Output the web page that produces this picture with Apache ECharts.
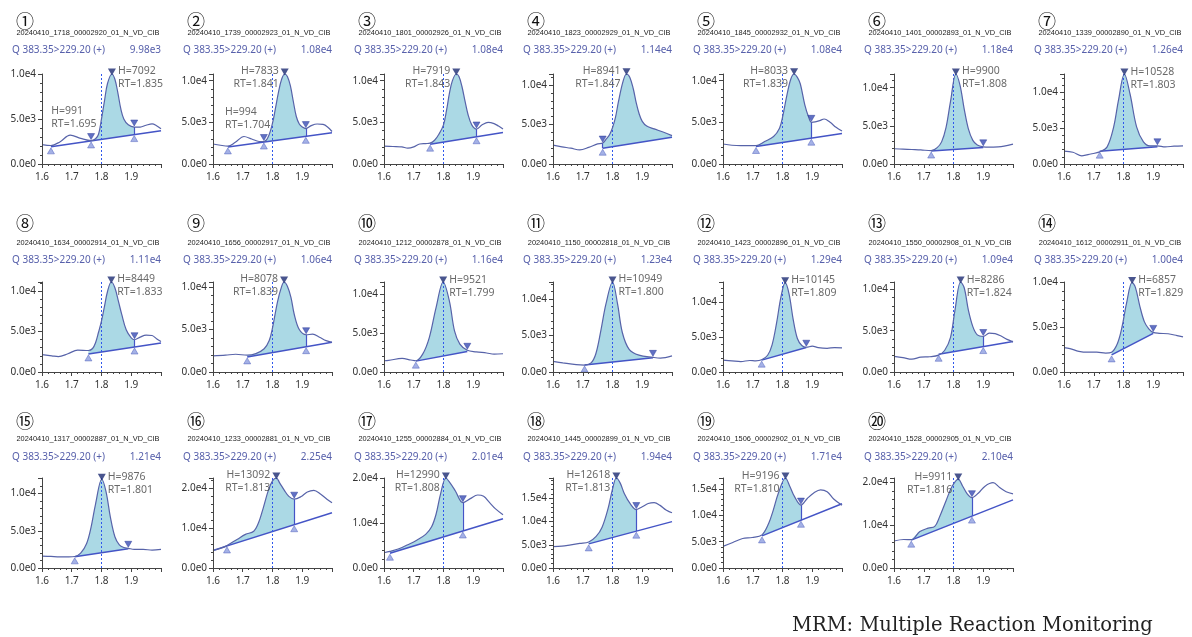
<!DOCTYPE html>
<html>
<head>
<meta charset="utf-8">
<script src="https://cdn.jsdelivr.net/npm/echarts@6/dist/echarts.min.js"></script>
<style>
  html, body { margin: 0; padding: 0; background: #ffffff; }
  #chart { width: 1192px; height: 637px; }
</style>
</head>
<body>
<div id="chart"></div>
<script>
// ---------------------------------------------------------------------------
// Data: 20 MRM chromatograms of the same transition, one per injection
// ---------------------------------------------------------------------------
const panelMarks = ['①','②','③','④','⑤','⑥','⑦','⑧','⑨','⑩','⑪','⑫','⑬','⑭','⑮','⑯','⑰','⑱','⑲','⑳'];

const sampleFiles = [
  '20240410_1718_00002920_01_N_VD_CIB', '20240410_1739_00002923_01_N_VD_CIB',
  '20240410_1801_00002926_01_N_VD_CIB', '20240410_1823_00002929_01_N_VD_CIB',
  '20240410_1845_00002932_01_N_VD_CIB', '20240410_1401_00002893_01_N_VD_CIB',
  '20240410_1339_00002890_01_N_VD_CIB', '20240410_1634_00002914_01_N_VD_CIB',
  '20240410_1656_00002917_01_N_VD_CIB', '20240410_1212_00002878_01_N_VD_CIB',
  '20240410_1150_00002818_01_N_VD_CIB', '20240410_1423_00002896_01_N_VD_CIB',
  '20240410_1550_00002908_01_N_VD_CIB', '20240410_1612_00002911_01_N_VD_CIB',
  '20240410_1317_00002887_01_N_VD_CIB', '20240410_1233_00002881_01_N_VD_CIB',
  '20240410_1255_00002884_01_N_VD_CIB', '20240410_1445_00002899_01_N_VD_CIB',
  '20240410_1506_00002902_01_N_VD_CIB', '20240410_1528_00002905_01_N_VD_CIB'
];

const transitionLabel = 'Q 383.35>229.20 (+)';
const expectedRT = 1.8;

// Maximum intensity of each trace (top of the intensity axis)
const maxIntensity = [9980, 10800, 10800, 11400, 10800, 11800, 12600,
                      11100, 10600, 11600, 12300, 12900, 10900, 10000,
                      12100, 22500, 20100, 19400, 17100, 21000];

// Integrated main peak: apex retention time and height above baseline
const peakRT     = [1.835, 1.841, 1.843, 1.847, 1.839, 1.808, 1.803,
                    1.833, 1.839, 1.799, 1.800, 1.809, 1.824, 1.829,
                    1.801, 1.813, 1.808, 1.813, 1.810, 1.816];
const peakHeight = [7092, 7833, 7919, 8941, 8033, 9900, 10528,
                    8449, 8078, 9521, 10949, 10145, 8286, 6857,
                    9876, 13092, 12990, 12618, 9196, 9911];

// Integration limits of the main peak (min)
const peakStart = [1.765, 1.771, 1.755, 1.767, 1.711, 1.725, 1.72,
                   1.756, 1.715, 1.707, 1.706, 1.73, 1.75, 1.76,
                   1.71, 1.647, 1.62, 1.72, 1.731, 1.658];
const peakEnd   = [1.91, 1.912, 1.911, 2.0, 1.897, 1.90, 1.914,
                   1.911, 1.913, 1.88, 1.936, 1.88, 1.90, 1.90,
                   1.89, 1.873, 1.865, 1.88, 1.862, 1.862];

// Drawn baseline segment: [rt, intensity] at each end
const baselineFrom = [[1.63,1900],[1.65,2050],[1.755,2380],[1.767,2000],[1.711,2100],[1.725,1700],[1.72,1800],
                      [1.756,2230],[1.715,1780],[1.707,1400],[1.706,950],[1.73,1700],[1.75,2150],[1.76,1900],
                      [1.71,1500],[1.6,4400],[1.62,3300],[1.72,5200],[1.731,6100],[1.658,6500]];
const baselineTo   = [[2.0,3700],[2.0,3750],[2.0,3780],[2.0,3400],[2.0,3650],[1.90,2150],[1.914,2430],
                      [2.0,3570],[2.0,3510],[1.88,2650],[1.936,1950],[1.88,3500],[2.0,3700],[1.90,4300],
                      [1.89,2600],[2.0,13800],[2.0,11000],[2.0,10000],[2.0,12200],[2.0,15900]];

// Small earlier peak integrated in samples ① and ②
const minorPeakPanel  = [0, 1];
const minorPeakRT     = [1.695, 1.704];
const minorPeakHeight = [991, 994];
const minorPeakStart  = [1.63, 1.65];

// Chromatogram traces: [retention time (min), intensity]
const trace01 = [[1.60,2150],[1.63,2050],[1.66,2450],[1.695,3200],[1.73,2850],[1.765,2600],[1.78,2800],[1.79,3300],[1.80,5000],[1.81,7000],[1.82,8900],[1.835,9980],[1.845,9400],[1.855,7900],[1.865,6100],[1.875,5000],[1.89,4350],[1.91,4100],[1.93,4100],[1.95,4300],[1.97,4450],[1.985,4250],[2.0,3900]];
const trace02 = [[1.60,2400],[1.625,2250],[1.65,2150],[1.675,2600],[1.704,3300],[1.73,3000],[1.755,2700],[1.771,2700],[1.785,3200],[1.80,4900],[1.81,6700],[1.82,8600],[1.83,10100],[1.841,10800],[1.85,10500],[1.86,9400],[1.87,7500],[1.88,5700],[1.89,4800],[1.90,4450],[1.912,4250],[1.93,4600],[1.95,4800],[1.97,4750],[1.985,4450],[2.0,3900]];
const trace03 = [[1.60,2150],[1.63,2100],[1.66,2050],[1.68,1900],[1.70,2050],[1.72,2400],[1.74,2450],[1.755,2500],[1.77,2850],[1.785,3600],[1.80,4700],[1.81,6400],[1.82,8500],[1.83,10000],[1.843,10800],[1.852,10500],[1.862,9300],[1.872,7600],[1.882,6000],[1.895,4700],[1.911,4200],[1.93,4700],[1.95,5000],[1.97,4850],[1.985,4550],[2.0,4200]];
const trace04 = [[1.60,2380],[1.63,2170],[1.66,2000],[1.69,1780],[1.72,2100],[1.75,2550],[1.767,2650],[1.78,3200],[1.79,3700],[1.80,4600],[1.81,5900],[1.82,7900],[1.835,10400],[1.847,11400],[1.858,11000],[1.87,9500],[1.88,7700],[1.89,6300],[1.90,5400],[1.915,4800],[1.94,4450],[1.97,4050],[2.0,3600]];
const trace05 = [[1.60,2400],[1.63,2250],[1.66,2200],[1.69,2200],[1.711,2200],[1.74,2700],[1.77,3300],[1.79,4300],[1.80,5600],[1.815,8300],[1.828,10200],[1.839,10800],[1.85,10400],[1.86,9600],[1.875,7100],[1.888,5600],[1.897,5000],[1.91,5050],[1.925,5200],[1.94,5400],[1.96,5000],[1.98,4400],[2.0,3950]];
const trace06 = [[1.60,2000],[1.63,1950],[1.66,1900],[1.69,1850],[1.725,1750],[1.745,2150],[1.76,2900],[1.775,4800],[1.79,8200],[1.808,11800],[1.822,10300],[1.836,7200],[1.85,4600],[1.865,3100],[1.88,2500],[1.90,2250],[1.92,2200],[1.95,2250],[1.97,2350],[2.0,2600]];
const trace07 = [[1.60,1800],[1.63,1650],[1.66,1150],[1.69,1400],[1.72,1700],[1.745,2400],[1.767,5200],[1.783,8900],[1.803,12600],[1.822,9800],[1.844,5200],[1.867,3100],[1.889,2550],[1.914,2550],[1.94,2400],[1.97,2500],[2.0,2550]];
const trace08 = [[1.60,2150],[1.633,2000],[1.655,1900],[1.687,2250],[1.72,2700],[1.756,2650],[1.77,2900],[1.78,3600],[1.79,4900],[1.80,6300],[1.81,8100],[1.82,9900],[1.833,11100],[1.845,10400],[1.857,8700],[1.868,7100],[1.883,5200],[1.90,4200],[1.911,3980],[1.93,4300],[1.95,4550],[1.97,4500],[1.985,4100],[2.0,3750]];
const trace09 = [[1.60,1900],[1.642,1980],[1.676,2090],[1.715,1980],[1.744,2170],[1.772,2740],[1.789,3700],[1.80,5200],[1.817,8300],[1.83,10000],[1.839,10600],[1.85,10100],[1.862,8800],[1.873,6800],[1.89,5000],[1.913,4390],[1.935,4450],[1.958,4100],[1.98,3700],[2.0,3500]];
const trace10 = [[1.60,1450],[1.616,1500],[1.661,1750],[1.69,1550],[1.707,1450],[1.73,2300],[1.752,4400],[1.775,8300],[1.799,11600],[1.82,9100],[1.837,5300],[1.855,3600],[1.88,2800],[1.91,2600],[1.945,2450],[1.97,2300],[2.0,2350]];
const trace11 = [[1.60,1450],[1.633,1250],[1.678,1000],[1.706,950],[1.728,1250],[1.744,2500],[1.761,5700],[1.778,9300],[1.80,12300],[1.817,9300],[1.833,5400],[1.856,3100],[1.889,2300],[1.936,2000],[1.961,1900],[2.0,2200]];
const trace12 = [[1.60,1700],[1.63,1600],[1.66,1500],[1.69,1650],[1.71,1600],[1.73,1750],[1.75,2400],[1.765,3900],[1.78,7000],[1.795,10800],[1.809,12800],[1.822,11200],[1.836,7500],[1.85,4800],[1.865,3800],[1.88,3550],[1.90,3700],[1.92,3500],[1.95,3400],[1.975,3500],[2.0,3450]];
const trace13 = [[1.60,1900],[1.63,1750],[1.66,1550],[1.69,1800],[1.72,1850],[1.75,2050],[1.77,2600],[1.79,4200],[1.805,7500],[1.824,10900],[1.836,10200],[1.85,7500],[1.865,5500],[1.88,4500],[1.90,4300],[1.92,4700],[1.94,4650],[1.96,4350],[1.98,3950],[2.0,3650]];
const trace14 = [[1.60,2700],[1.62,2600],[1.65,2300],[1.68,2200],[1.71,2200],[1.74,2100],[1.76,2200],[1.78,3200],[1.795,5000],[1.81,7600],[1.829,9950],[1.84,9400],[1.855,7300],[1.87,5600],[1.885,4800],[1.90,4400],[1.92,4300],[1.95,4250],[1.98,4050],[2.0,3900]];
const trace15 = [[1.60,1600],[1.63,1550],[1.66,1500],[1.69,1500],[1.71,1550],[1.73,2000],[1.75,3300],[1.765,5500],[1.78,8600],[1.801,11930],[1.815,10300],[1.83,6800],[1.845,4200],[1.86,3100],[1.875,2750],[1.89,2650],[1.91,2500],[1.94,2500],[1.97,2400],[2.0,2500]];
const trace16 = [[1.60,4350],[1.625,4900],[1.647,5600],[1.682,7200],[1.709,8400],[1.737,9200],[1.753,11300],[1.77,15300],[1.786,19400],[1.80,21800],[1.813,22500],[1.824,21300],[1.84,19400],[1.855,17900],[1.873,17200],[1.895,17800],[1.917,19000],[1.939,19400],[1.961,18500],[1.983,17200],[2.0,16300]];
const trace17 = [[1.60,3400],[1.62,3700],[1.65,4300],[1.68,5200],[1.71,6200],[1.74,7500],[1.76,9200],[1.775,12000],[1.79,16500],[1.808,20100],[1.822,19000],[1.84,17200],[1.865,14600],[1.89,15500],[1.915,16300],[1.935,16000],[1.955,14600],[1.975,13200],[2.0,11900]];
const trace18 = [[1.60,4600],[1.63,4700],[1.66,5000],[1.69,5300],[1.72,5600],[1.745,6800],[1.765,8800],[1.785,12800],[1.80,17000],[1.813,19400],[1.826,18300],[1.84,16000],[1.86,13800],[1.88,12600],[1.90,13200],[1.92,13900],[1.94,14100],[1.96,13500],[1.98,12500],[2.0,11900]];
const trace19 = [[1.60,4100],[1.633,4850],[1.666,5600],[1.698,5800],[1.731,6300],[1.753,8400],[1.769,11000],[1.786,14200],[1.81,17100],[1.824,15600],[1.84,13600],[1.862,11950],[1.884,13250],[1.906,14300],[1.928,14850],[1.95,14500],[1.972,13100],[2.0,11900]];
const trace20 = [[1.60,6300],[1.633,6650],[1.658,6600],[1.687,8500],[1.715,9300],[1.737,9700],[1.753,11900],[1.775,15700],[1.795,19000],[1.816,20750],[1.83,19200],[1.846,17300],[1.862,16400],[1.884,17500],[1.906,19100],[1.933,19900],[1.955,18800],[1.977,17800],[2.0,17300]];

const traces = [trace01, trace02, trace03, trace04, trace05, trace06, trace07,
                trace08, trace09, trace10, trace11, trace12, trace13, trace14,
                trace15, trace16, trace17, trace18, trace19, trace20];

// ---------------------------------------------------------------------------
// Layout and styling
// ---------------------------------------------------------------------------
const COL_LEFT = [42, 213, 384, 553, 723, 894, 1064];   // x of the intensity axis
const ROW_ZERO = [164, 372, 568];                        // y of the RT axis
const ROW_MARK = [21, 223, 421];
const ROW_FILE = [33, 243, 439];
const ROW_Q    = [50, 260, 457];
const PLOT_W = 119, PLOT_H = 90;
const labelSide = ['right','left','left','left','left','right','right',
                   'right','left','right','right','right','right','right',
                   'right','left','left','left','left','left'];

const FONT = '"Noto Sans", "Liberation Sans", sans-serif';
const TRACE_COLOR = '#5763a9';
const FILL_COLOR = '#abd9e5';
const BASE_COLOR = '#4454c6';
const AXIS_COLOR = '#444';
const Q_COLOR = '#5760ab';
const SMOOTH = 0.35;
const MASK_PAD = 0.003;          // mask overlap so no fill sliver shows at the limits
const DOWN_TRI = 'path://M0,0L10,0L5,9Z';

function baselineAt(i, rt) {
  const [x0, y0] = baselineFrom[i], [x1, y1] = baselineTo[i];
  return y0 + (y1 - y0) * (rt - x0) / (x1 - x0);
}
function traceAt(tr, rt) {
  for (let k = 0; k < tr.length - 1; k++) {
    const a = tr[k], b = tr[k + 1];
    if (rt >= a[0] - 1e-9 && rt <= b[0] + 1e-9) {
      return a[1] + (b[1] - a[1]) * (rt - a[0]) / (b[0] - a[0]);
    }
  }
  return tr[tr.length - 1][1];
}
function upMarker(rt, v) {
  return { value: [rt, v], symbol: 'triangle', symbolSize: [7, 6], symbolOffset: [0, 4],
           itemStyle: { color: '#8d9de0', borderColor: '#4b5bb9', borderWidth: 0.6 } };
}
function downMarker(rt, v) {
  return { value: [rt, v], symbol: DOWN_TRI, symbolSize: [7, 6], symbolOffset: [0, -4],
           itemStyle: { color: '#3a4cb4', borderColor: '#2a3a98', borderWidth: 0.6 } };
}

const grids = [], xAxes = [], yAxes = [], series = [], texts = [];

traces.forEach((trace, i) => {
  const row = Math.floor(i / 7), col = i % 7;
  const left = COL_LEFT[col], zero = ROW_ZERO[row];
  const ymax = maxIntensity[i];
  const iv = ymax > 20000 ? 10000 : 5000;

  grids.push({ left: left, top: zero - PLOT_H, width: PLOT_W, height: PLOT_H,
               containLabel: false, outerBoundsMode: 'none' });

  xAxes.push({
    gridIndex: i, type: 'value', min: 1.6, max: 2.0, interval: 0.1, z: 8,
    axisLine: { show: true, onZero: false, lineStyle: { color: AXIS_COLOR, width: 1 } },
    axisTick: { show: true, length: 4, lineStyle: { color: AXIS_COLOR } },
    minorTick: { show: true, splitNumber: 5, length: 2, lineStyle: { color: AXIS_COLOR } },
    splitLine: { show: false }, minorSplitLine: { show: false },
    axisLabel: { fontSize: 10, color: '#333', fontFamily: FONT, margin: 8,
                 formatter: v => (v > 1.95 ? '' : v.toFixed(1)) }
  });

  yAxes.push({
    gridIndex: i, type: 'value', min: 0, max: ymax, interval: iv, z: 8,
    axisLine: { show: true, lineStyle: { color: AXIS_COLOR, width: 1 } },
    axisTick: { show: true, length: 4, lineStyle: { color: AXIS_COLOR } },
    minorTick: { show: true, splitNumber: 5, length: 2, lineStyle: { color: AXIS_COLOR } },
    splitLine: { show: false }, minorSplitLine: { show: false },
    axisLabel: { fontSize: 10, color: '#333', fontFamily: FONT, margin: 6,
                 formatter: v => {
                   const k = Math.round(v / iv) * iv;
                   return Math.abs(v - k) > iv * 0.01 ? '' : k.toExponential(1).replace('+', '');
                 } }
  });

  const s = peakStart[i], e = peakEnd[i];
  const area = trace.filter(p => p[0] >= s - 1e-9 && p[0] <= e + 1e-9);
  const bs = baselineAt(i, s), be = baselineAt(i, e);
  const ts = traceAt(trace, s), te = traceAt(trace, e);
  const gap = ymax * 0.05;
  const axes = { xAxisIndex: i, yAxisIndex: i, silent: true, animation: false };

  // integrated area: trace region filled, then masked below the baseline
  series.push(Object.assign({ type: 'line', data: area, symbol: 'none', smooth: SMOOTH, z: 1,
    lineStyle: { width: 0, opacity: 0 }, areaStyle: { color: FILL_COLOR, opacity: 1 } }, axes));
  const ms = s - MASK_PAD, me = Math.min(e + MASK_PAD, 2.0);
  series.push(Object.assign({ type: 'line', data: [[ms, baselineAt(i, ms)], [me, baselineAt(i, me)]],
    symbol: 'none', z: 2, clip: true,
    lineStyle: { width: 0, opacity: 0 }, areaStyle: { color: '#ffffff', opacity: 1 } }, axes));

  // baseline with connectors between trace and baseline at split limits
  const connectors = [];
  const markers = [];
  const isMinor = minorPeakPanel.indexOf(i);
  if (isMinor >= 0) {
    const mrt = minorPeakRT[isMinor];
    markers.push(upMarker(minorPeakStart[isMinor], baselineAt(i, minorPeakStart[isMinor])));
    markers.push({
      value: [mrt, baselineAt(i, mrt) + minorPeakHeight[isMinor]], symbol: 'circle', symbolSize: 1,
      itemStyle: { color: 'rgba(0,0,0,0)' },
      label: { show: true, position: 'inside', align: 'left', verticalAlign: 'bottom', offset: [-19, -5],
               formatter: 'H=' + minorPeakHeight[isMinor] + '\nRT=' + mrt.toFixed(3),
               color: '#444', fontSize: 10.5, lineHeight: 13, fontFamily: FONT }
    });
  }
  markers.push(upMarker(s, bs));
  if (isMinor >= 0 || ts - bs > gap) {
    markers.push(downMarker(s, ts));
    if (ts - bs > gap) connectors.push([{ coord: [s, ts] }, { coord: [s, bs] }]);
  }
  if (e < 1.999) {
    markers.push(downMarker(e, te));
    if (te - be > gap) {
      markers.push(upMarker(e, be));
      connectors.push([{ coord: [e, te] }, { coord: [e, be] }]);
    }
  }
  const apexY = baselineAt(i, peakRT[i]) + peakHeight[i];
  const right = labelSide[i] === 'right';
  markers.push({
    value: [peakRT[i], apexY], symbol: DOWN_TRI, symbolSize: [8, 7], symbolOffset: [0, -2],
    itemStyle: { color: '#1c2a72' }
  });
  markers.push({
    value: [peakRT[i], apexY], symbol: 'circle', symbolSize: 1, itemStyle: { color: 'rgba(0,0,0,0)' },
    label: { show: true, position: 'inside', align: right ? 'left' : 'right', verticalAlign: 'top',
             offset: [right ? 6 : -6, -9],
             formatter: 'H=' + peakHeight[i] + '\nRT=' + peakRT[i].toFixed(3),
             color: '#444', fontSize: 10.5, lineHeight: 13, fontFamily: FONT }
  });

  series.push(Object.assign({ type: 'line', data: [baselineFrom[i], baselineTo[i]], symbol: 'none', z: 4,
    lineStyle: { color: BASE_COLOR, width: 1.5 },
    markLine: { silent: true, animation: false, symbol: ['none', 'none'], label: { show: false },
                lineStyle: { color: BASE_COLOR, width: 1.2, type: 'solid' }, data: connectors }
  }, axes));

  // chromatogram trace with the expected retention time marked
  series.push(Object.assign({ type: 'line', data: trace, symbol: 'none', smooth: SMOOTH, z: 5,
    lineStyle: { color: TRACE_COLOR, width: 1.2 },
    markLine: { silent: true, animation: false, symbol: ['none', 'none'], label: { show: false },
                lineStyle: { color: '#2f58ec', width: 1, type: [2, 2], opacity: 1 },
                emphasis: { disabled: true },
                data: [{ xAxis: expectedRT }] }
  }, axes));

  series.push(Object.assign({ type: 'scatter', data: markers, clip: false, z: 6 }, axes));

  // panel headings
  texts.push({ type: 'text', x: left - 17, y: ROW_MARK[row],
    style: { text: panelMarks[i], font: '18px "Noto Sans CJK JP"', fill: '#111', align: 'center', verticalAlign: 'middle' } });
  texts.push({ type: 'text', x: left + 46, y: ROW_FILE[row],
    style: { text: sampleFiles[i], font: '7.4px "Liberation Sans", sans-serif', fill: '#222', align: 'center', verticalAlign: 'middle' } });
  texts.push({ type: 'text', x: left - 30, y: ROW_Q[row],
    style: { text: transitionLabel, font: '10px ' + FONT, fill: Q_COLOR, align: 'left', verticalAlign: 'middle' } });
  texts.push({ type: 'text', x: left + 119, y: ROW_Q[row],
    style: { text: ymax.toExponential(2).replace('+', ''), font: '10px ' + FONT, fill: Q_COLOR, align: 'right', verticalAlign: 'middle' } });
});

texts.push({ type: 'text', x: 792, y: 626,
  style: { text: 'MRM: Multiple Reaction Monitoring', font: '19.5px "DejaVu Serif", serif', fill: '#222', align: 'left', verticalAlign: 'middle' } });

const chart = echarts.init(document.getElementById('chart'), null, { renderer: 'canvas' });
chart.setOption({
  backgroundColor: '#ffffff',
  animation: false,
  grid: grids,
  xAxis: xAxes,
  yAxis: yAxes,
  series: series,
  graphic: { elements: texts }
});
</script>
</body>
</html>
